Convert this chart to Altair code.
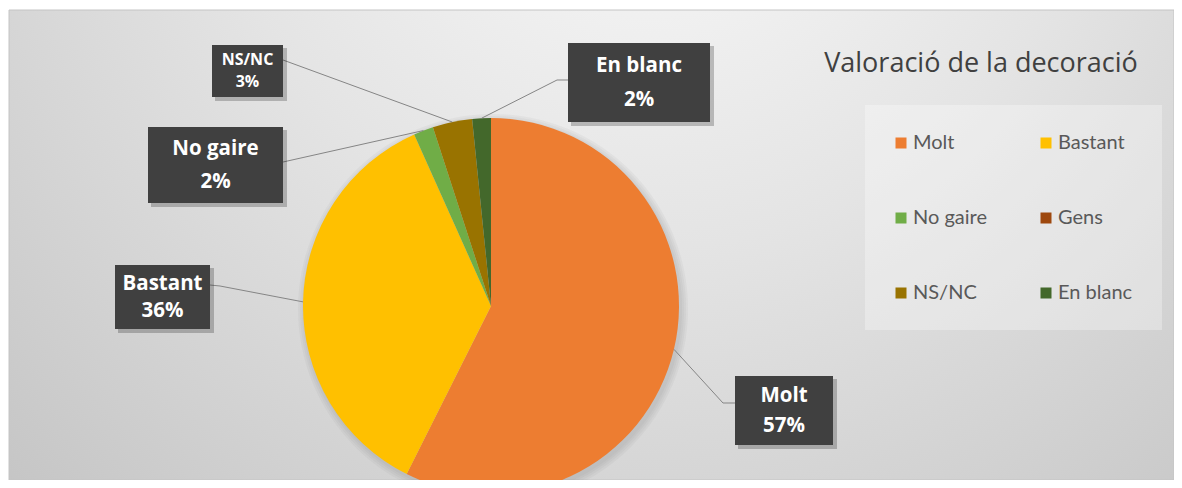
import math
import altair as alt
import pandas as pd

# ---------------- data ----------------
categories = ["Molt", "Bastant", "No gaire", "Gens", "NS/NC", "En blanc"]
values = [57.4, 35.9, 1.7, 0.0, 3.4, 1.6]
colors = ["#ED7D31", "#FFC000", "#70AD47", "#9E480E", "#997300", "#43682B"]
title_text = "Valoració de la decoració"

# ---------------- layout (page pixel coordinates) ----------------
W, H = 1166, 472
OX, OY = 8, 8
CX, CY, R = 491, 306, 188

label_layout = {
    "Molt":     dict(box=(735, 833, 376, 445), fs=20.5, anchor=(735, 403), elbow=(723, 403)),
    "Bastant":  dict(box=(115, 210, 265, 329), fs=20.5, anchor=(210, 285), elbow=(220, 286)),
    "No gaire": dict(box=(148, 283, 127, 203), fs=20.5, anchor=(283, 162), elbow=(283, 162)),
    "NS/NC":    dict(box=(212, 283, 45, 97), fs=16, anchor=(283, 60), elbow=(283, 60)),
    "En blanc": dict(box=(568, 710, 43, 122), fs=20.5, anchor=(568, 80), elbow=(557, 80)),
}
legend_cols_x = [895, 1040]
legend_rows_y = [143, 218, 293]

xs = alt.Scale(domain=[OX, OX + W], range=[0, W], nice=False, zero=False)
ys = alt.Scale(domain=[OY, OY + H], range=[0, H], nice=False, zero=False)
cscale = alt.Scale(domain=categories, range=colors)


def X(f):
    return alt.X(f"{f}:Q", scale=xs, axis=None)


def Y(f):
    return alt.Y(f"{f}:Q", scale=ys, axis=None)


# ---------------- tables ----------------
pie_df = pd.DataFrame({"cat": categories, "value": values, "idx": range(len(categories))})

total = sum(values)
cum = 0.0
lines_rows, box_rows, text_rows = [], [], []
for c, v in zip(categories, values):
    start = cum
    cum += v
    if c not in label_layout:
        continue
    mid = (start + v / 2) / total * 2 * math.pi
    px = CX + R * math.sin(mid)
    py = CY - R * math.cos(mid)
    L = label_layout[c]
    pts = [(px, py), L["elbow"], L["anchor"]]
    for k, (a, b) in enumerate(pts):
        lines_rows.append({"cat": c, "o": k, "px": a, "py": b})
    x1, x2, y1, y2 = L["box"]
    box_rows.append({"cat": c, "x1": x1, "x2": x2, "y1": y1, "y2": y2,
                     "sx1": x1 + 3, "sx2": x2 + 4, "sy1": y1 + 3, "sy2": y2 + 4})
    hgt = y2 - y1
    cxb = (x1 + x2) / 2
    text_rows.append({"t": c, "px": cxb, "py": y1 + hgt * 0.29, "fs": L["fs"]})
    text_rows.append({"t": f"{round(v)}%", "px": cxb, "py": y1 + hgt * 0.72, "fs": L["fs"]})

lines_df = pd.DataFrame(lines_rows)
box_df = pd.DataFrame(box_rows)
text_df = pd.DataFrame(text_rows)

leg_rows = []
for i, c in enumerate(categories):
    leg_rows.append({"cat": c,
                     "sx": legend_cols_x[i % 2] + 6,
                     "tx": legend_cols_x[i % 2] + 18,
                     "ty": legend_rows_y[i // 2]})
leg_df = pd.DataFrame(leg_rows)

one = pd.DataFrame({"a": [0]})

# ---------------- layers ----------------
bg = alt.Chart(one).mark_rect(
    fill=alt.RadialGradient(
        gradient="radial", x1=0.55, y1=0.12, r1=0.0, x2=0.55, y2=0.12, r2=0.85,
        stops=[alt.GradientStop(offset=0, color="#fbfbfb"),
               alt.GradientStop(offset=0.45, color="#e4e4e4"),
               alt.GradientStop(offset=1, color="#c2c2c2")]),
    stroke="#c4c4c4", strokeWidth=1,
).encode(x=alt.value(1), x2=alt.value(W), y=alt.value(2), y2=alt.value(H))

shadow_rings = alt.layer(*[
    alt.Chart(one).mark_arc(outerRadius=R + d, color="#808080", opacity=0.07).encode(
        theta=alt.value(2 * math.pi),
        x=alt.value(CX - OX + 2), y=alt.value(CY - OY + 3))
    for d in (1, 3, 5, 7)
])

pie = alt.Chart(pie_df).mark_arc(outerRadius=R).encode(
    theta=alt.Theta("value:Q", stack=True),
    order=alt.Order("idx:Q"),
    color=alt.Color("cat:N", scale=cscale, legend=None),
    x=alt.value(CX - OX), y=alt.value(CY - OY),
)

leaders = alt.Chart(lines_df).mark_line(color="#858585", strokeWidth=1).encode(
    x=X("px"), y=Y("py"), detail="cat:N", order="o:Q")

box_shadow = alt.Chart(box_df).mark_rect(color="#000000", opacity=0.22).encode(
    x=X("sx1"), x2="sx2", y=Y("sy1"), y2="sy2")

boxes = alt.Chart(box_df).mark_rect(color="#404040").encode(
    x=X("x1"), x2="x2", y=Y("y1"), y2="y2")

texts = alt.Chart(text_df).mark_text(
    font="Open Sans", fontWeight="bold", color="#ffffff", align="center", baseline="middle"
).encode(x=X("px"), y=Y("py"), text="t:N", size=alt.Size("fs:Q", scale=None))

title = alt.Chart(one).mark_text(
    text=title_text, font="Open Sans", fontSize=27, color="#404040", align="center", baseline="middle"
).encode(x=alt.value(981 - OX), y=alt.value(64 - OY))

leg_box = alt.Chart(one).mark_rect(color="#ffffff", opacity=0.3).encode(
    x=alt.value(865 - OX), x2=alt.value(1162 - OX), y=alt.value(105 - OY), y2=alt.value(330 - OY))

leg_sw = alt.Chart(leg_df).mark_point(shape="square", filled=True, size=121, opacity=1).encode(
    x=X("sx"), y=Y("ty"), color=alt.Color("cat:N", scale=cscale, legend=None))

leg_txt = alt.Chart(leg_df).mark_text(
    font="Lato", fontSize=20, color="#595959", align="left", baseline="middle"
).encode(x=X("tx"), y=Y("ty"), text="cat:N")

chart = alt.layer(
    bg, shadow_rings, pie, leaders, box_shadow, boxes, texts, title, leg_box, leg_sw, leg_txt
).properties(
    width=W, height=H, padding=0, autosize=alt.AutoSizeParams(type="none"), background="#ffffff"
).configure_view(stroke=None)

chart.save("out.html", embed_options={"renderer": "svg", "actions": False})
